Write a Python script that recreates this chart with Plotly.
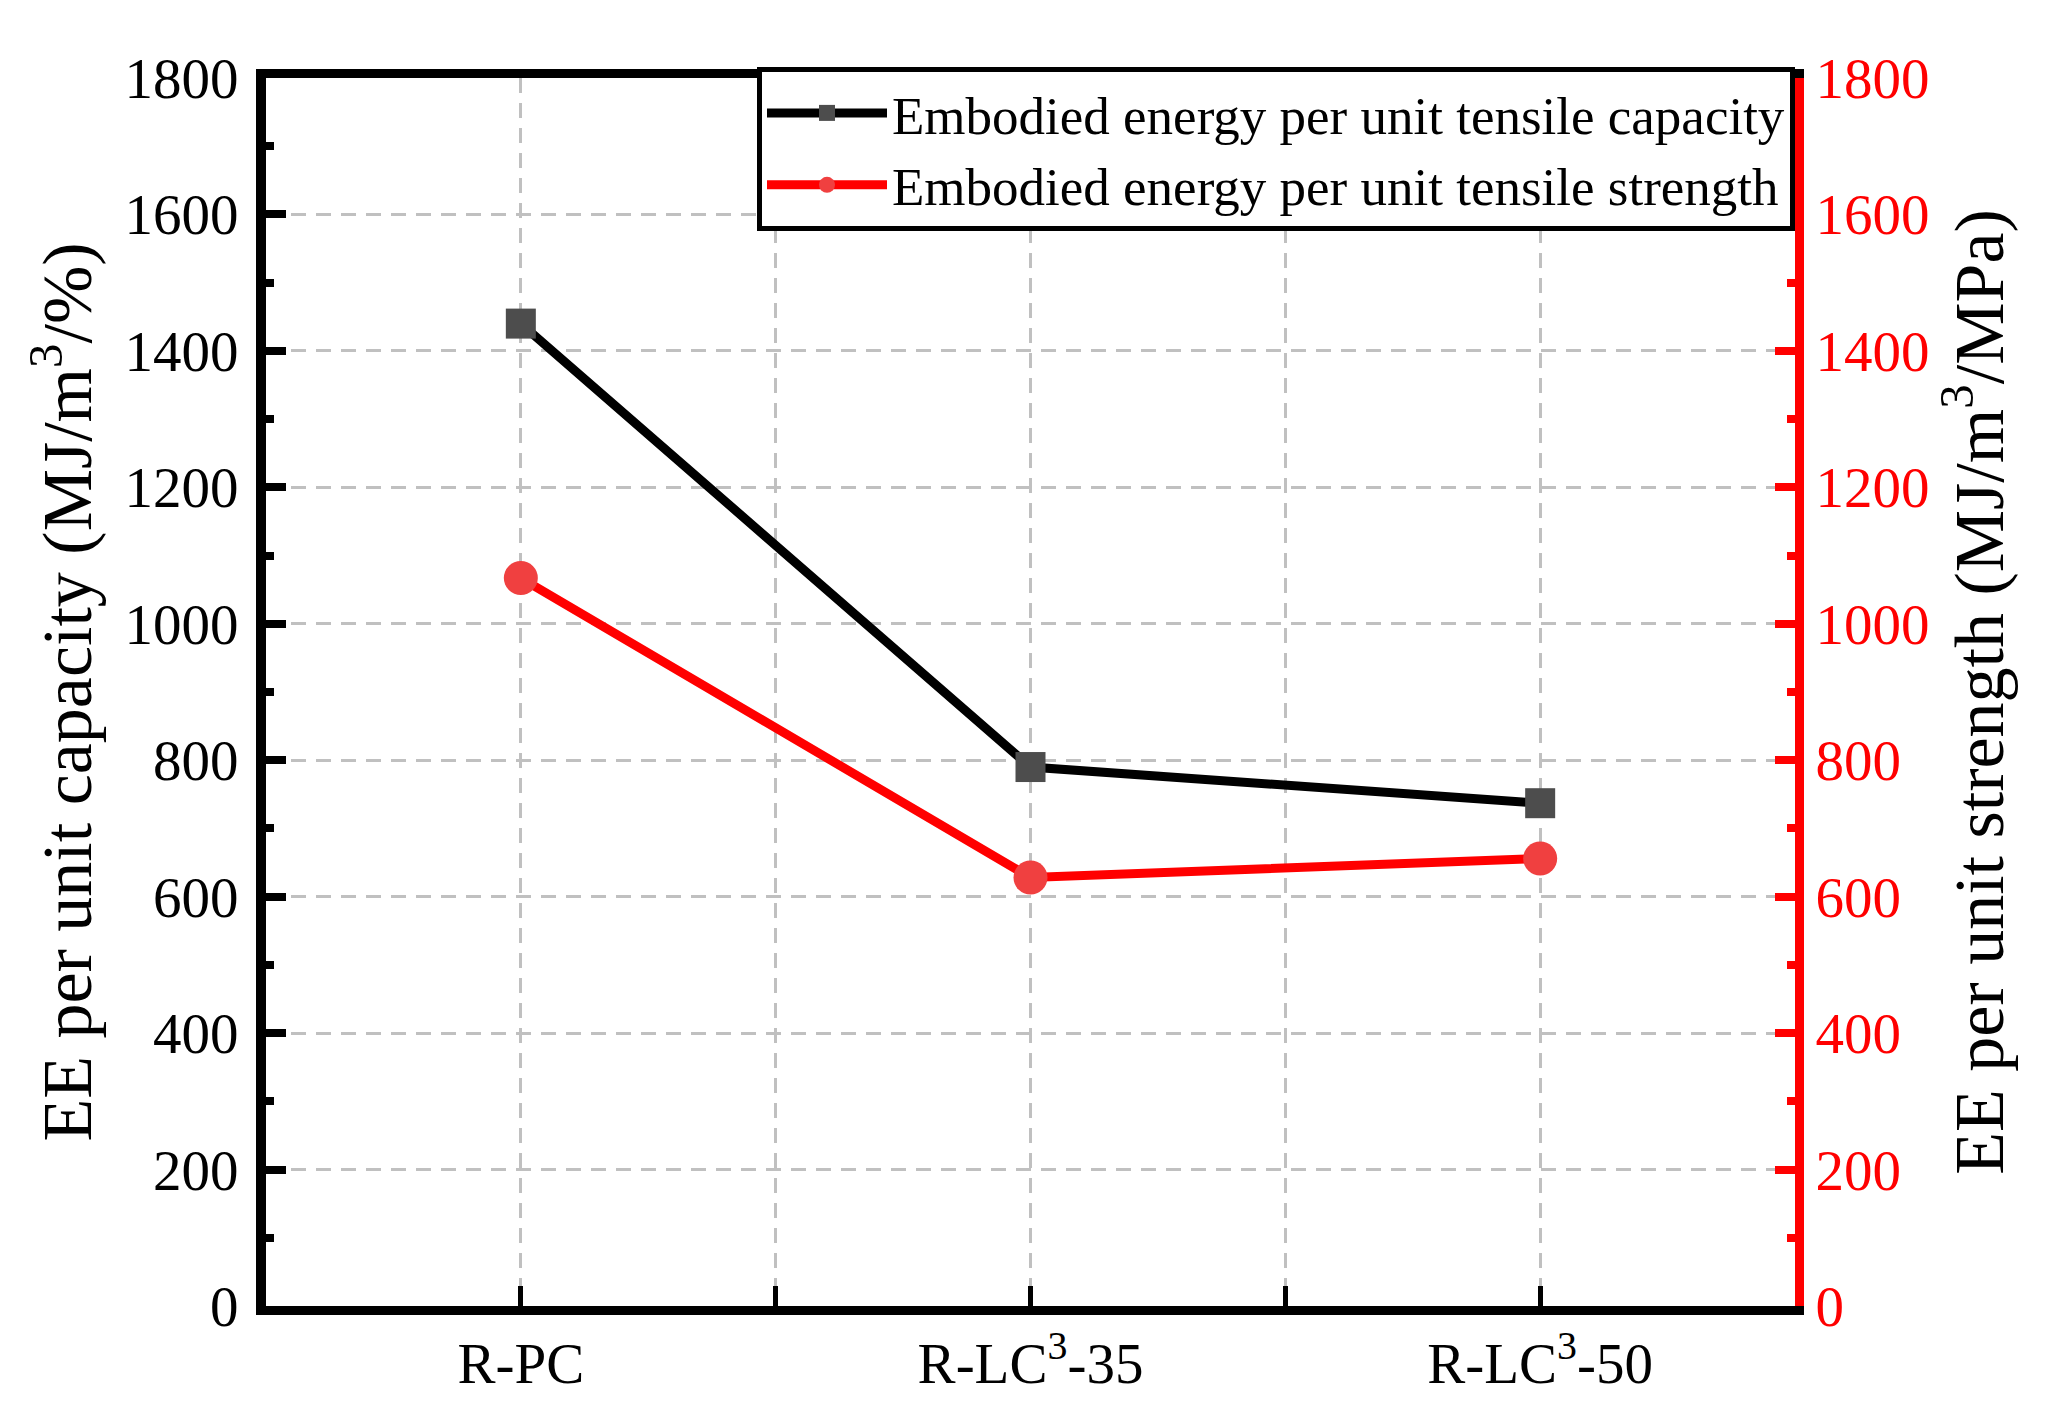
import plotly.graph_objects as go

categories = ["R-PC", "R-LC<sup>3</sup>-35", "R-LC<sup>3</sup>-50"]
ee_capacity = [1440, 790, 737]
ee_strength = [1067, 628, 656]
series_names = ["Embodied energy per unit tensile capacity",
                "Embodied energy per unit tensile strength"]
y_ticks = [0, 200, 400, 600, 800, 1000, 1200, 1400, 1600, 1800]

# categories placed at every other slot, with blank slots between them
x_pos = [2 * i + 1 for i in range(len(categories))]
tick_vals = list(range(1, 2 * len(categories)))
tick_text = []
for v in tick_vals:
    tick_text.append(categories[(v - 1) // 2] if v % 2 == 1 else "")

FONT = "Liberation Serif, Times New Roman, serif"
GRID_DASH = "15px,10px"

fig = go.Figure()
fig.add_trace(go.Scatter(
    x=x_pos, y=ee_capacity, name=series_names[0], mode="lines+markers",
    line=dict(color="black", width=9),
    marker=dict(symbol="square", size=30, color="#4d4d4d", line=dict(width=0)),
    yaxis="y"))
fig.add_trace(go.Scatter(
    x=x_pos, y=ee_strength, name=series_names[1], mode="lines+markers",
    line=dict(color="#ff0000", width=9),
    marker=dict(symbol="circle", size=34, color="#f04040", line=dict(width=0)),
    yaxis="y2"))

fig.update_layout(
    width=2060, height=1410,
    margin=dict(l=258, r=273, t=70, b=112),
    plot_bgcolor="white", paper_bgcolor="white",
    font=dict(family=FONT, size=57, color="black"),
    showlegend=True,
    legend=dict(x=1, y=1.009, xanchor="right", yanchor="top",
                bgcolor="white", bordercolor="black", borderwidth=5,
                font=dict(family=FONT, size=53, color="black"),
                itemwidth=120, tracegroupgap=0),
    xaxis=dict(range=[0, 2 * len(categories)], tickvals=tick_vals, ticktext=tick_text,
               showline=True, linecolor="black", linewidth=9, mirror=True,
               ticks="inside", ticklen=20, tickwidth=5, tickcolor="black",
               showgrid=True, gridcolor="#c0c0c0", gridwidth=3, griddash=GRID_DASH,
               zeroline=False, tickfont=dict(family=FONT, size=57, color="black")),
    yaxis=dict(range=[0, 1800], tickvals=y_ticks,
               showline=True, linecolor="black", linewidth=10,
               ticks="inside", ticklen=20, tickwidth=8, tickcolor="black",
               minor=dict(dtick=100, ticks="inside", ticklen=8, tickwidth=8,
                          tickcolor="black", showgrid=False),
               showgrid=True, gridcolor="#c0c0c0", gridwidth=3, griddash=GRID_DASH,
               zeroline=False, ticklabelstandoff=6,
               tickfont=dict(family=FONT, size=57, color="black"),
               title=dict(text="EE per unit capacity (MJ/m<sup>3</sup>/%)",
                          font=dict(family=FONT, size=70, color="black"), standoff=14)),
    yaxis2=dict(range=[0, 1800], tickvals=y_ticks, overlaying="y", side="right",
                showline=True, linecolor="#ff0000", linewidth=9,
                ticks="inside", ticklen=20, tickwidth=8, tickcolor="#ff0000",
                minor=dict(dtick=100, ticks="inside", ticklen=8, tickwidth=8,
                           tickcolor="#ff0000", showgrid=False),
                showgrid=False, zeroline=False, ticklabelstandoff=0,
                tickfont=dict(family=FONT, size=57, color="#ff0000"),
                title=dict(text="EE per unit strength (MJ/m<sup>3</sup>/MPa)",
                           font=dict(family=FONT, size=70, color="black"), standoff=14)),
)

fig.write_html("out.html")
